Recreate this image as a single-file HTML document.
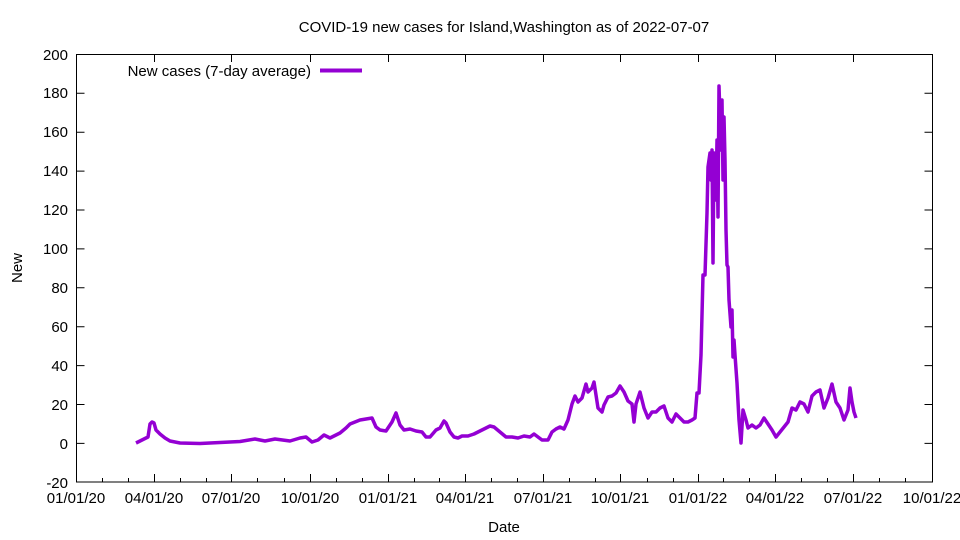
<!DOCTYPE html>
<html><head><meta charset="utf-8"><style>
body{margin:0;background:#fff}
svg{display:block;font-family:"Liberation Sans",sans-serif}
</style></head><body>
<svg width="960" height="540" viewBox="0 0 960 540">
<rect width="960" height="540" fill="#fff"/>
<text x="504" y="32" font-size="15" text-anchor="middle">COVID-19 new cases for Island,Washington as of 2022-07-07</text>
<g stroke="#000" stroke-width="1" fill="none">
<rect x="76.5" y="54.5" width="856" height="427.5"/>
<path d="M76.5 443.4h8M932.5 443.4h-8M76.5 404.5h8M932.5 404.5h-8M76.5 365.6h8M932.5 365.6h-8M76.5 326.7h8M932.5 326.7h-8M76.5 287.8h8M932.5 287.8h-8M76.5 248.9h8M932.5 248.9h-8M76.5 210h8M932.5 210h-8M76.5 171.1h8M932.5 171.1h-8M76.5 132.2h8M932.5 132.2h-8M76.5 93.3h8M932.5 93.3h-8"/>
<path d="M154.5 482v-8M231.5 482v-8M310.5 482v-8M388.5 482v-8M465.5 482v-8M543.5 482v-8M620.5 482v-8M698.5 482v-8M775.5 482v-8M853.5 482v-8M154.5 54v8M231.5 54v8M310.5 54v8M388.5 54v8M465.5 54v8M543.5 54v8M620.5 54v8M698.5 54v8M775.5 54v8M853.5 54v8"/>
<path d="M102.5 482v-4M128.5 482v-4M180.5 482v-4M206.5 482v-4M257.5 482v-4M284.5 482v-4M336.5 482v-4M362.5 482v-4M414.5 482v-4M439.5 482v-4M491.5 482v-4M517.5 482v-4M569.5 482v-4M595.5 482v-4M647.5 482v-4M673.5 482v-4M723.5 482v-4M749.5 482v-4M801.5 482v-4M827.5 482v-4M879.5 482v-4M905.5 482v-4"/>
</g>
<g font-size="15" text-anchor="end">
<text x="68" y="488">-20</text><text x="68" y="449">0</text><text x="68" y="410">20</text><text x="68" y="371">40</text><text x="68" y="332">60</text><text x="68" y="293">80</text><text x="68" y="254">100</text><text x="68" y="215">120</text><text x="68" y="176">140</text><text x="68" y="137">160</text><text x="68" y="98">180</text><text x="68" y="60">200</text>
</g>
<g font-size="15" text-anchor="middle">
<text x="76" y="503">01/01/20</text><text x="154" y="503">04/01/20</text><text x="231" y="503">07/01/20</text><text x="310" y="503">10/01/20</text><text x="388" y="503">01/01/21</text><text x="465" y="503">04/01/21</text><text x="543" y="503">07/01/21</text><text x="620" y="503">10/01/21</text><text x="698" y="503">01/01/22</text><text x="775" y="503">04/01/22</text><text x="853" y="503">07/01/22</text><text x="932" y="503">10/01/22</text>
<text x="504" y="532">Date</text>
<text transform="translate(22,268) rotate(-90)">New</text>
</g>
<text x="311" y="76" font-size="15" text-anchor="end">New cases (7-day average)</text>
<path d="M320 70.5h42" stroke="#9400d3" stroke-width="4"/>
<polyline fill="none" stroke="#9400d3" stroke-width="3.5" stroke-linejoin="round" points="136,443 142,440 146,438 148,437 150,424 152,422 154,423 156,430 160,434 165,438 170,441 180,443 200,443.5 220,442.5 240,441.5 255,439 265,441 275,439 290,441 300,438 306,437 312,442 318,440 324,435 330,438 336,435 340,433 346,428 350,424 355,422 360,420 366,419 372,418 376,427 380,430 386,431 392,422 396,413 400,425 404,430 410,429 416,431 422,432 426,437 430,437 436,430 440,428 444,421 446,423 450,432 454,437 458,438 462,436 468,436 474,434 480,431 486,428 490,426 494,427 500,432 506,437 512,437 518,438 524,436 530,437 534,434 538,437 542,440 548,440 552,432 556,429 560,427 564,429 568,420 572,404 575,396 578,402 582,398 586,384 588,392 592,388 594,382 598,408 602,412 604,405 608,397 612,396 616,393 620,386 624,392 628,401 632,404 634,422 636,404 640,392 644,408 648,418 652,412 656,412 660,408 664,406 668,418 672,422 676,414 680,418 684,422 688,422 692,420 695,418 697,393 699,393 701,355 703,275 705,275 707,213 708,167 710,153 711,180 712,150 713,263 714,153 716,200 717,140 718,217 719,86 720,117 721,150 722,100 723,180 724,117 725,160 726,230 727,265 728,267 729,300 731,327 732,310 733,357 734,340 735,355 737,383 739,420 741,443 743,410 746,420 748,428 752,425 756,428 760,425 764,418 768,424 772,430 776,437 780,432 784,427 788,422 792,408 796,410 800,402 804,404 808,412 812,396 816,392 820,390 824,408 828,398 832,384 836,402 840,408 844,420 848,410 850,388 852,402 854,412 856,418"/>
</svg>
</body></html>
